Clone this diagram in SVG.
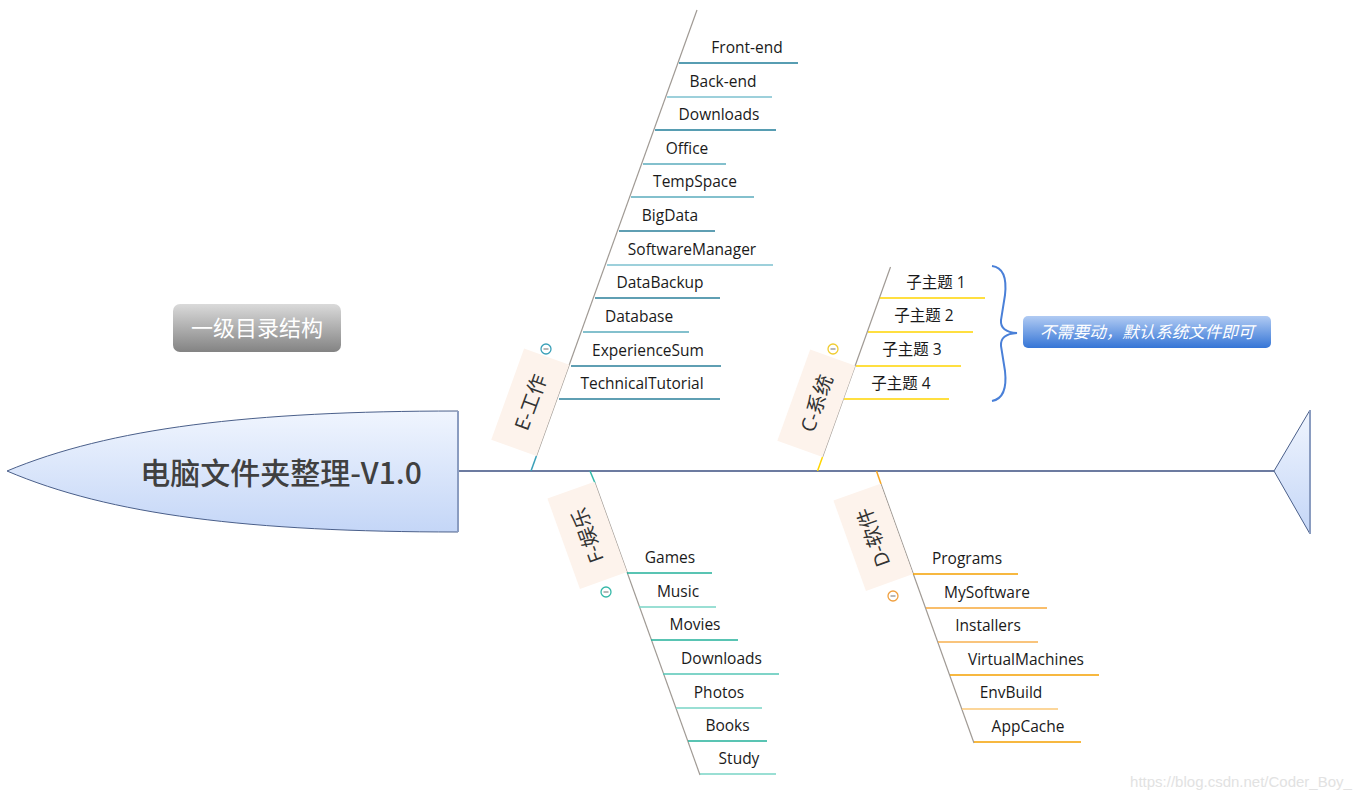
<svg xmlns="http://www.w3.org/2000/svg" width="1367" height="802" viewBox="0 0 1367 802">
<style>
.sub{font-family:"Open Sans","Noto Sans CJK SC",sans-serif;font-size:15.5px;fill:#1a1a1a;text-anchor:middle}
.lbl{font-family:"Open Sans","Noto Sans CJK SC",sans-serif;font-size:20px;fill:#333;text-anchor:middle;dominant-baseline:central}
.box{fill:#fdf3ec}
.diag{stroke:#a09a94;stroke-width:1.2;fill:none}
.ln{stroke-width:1.5;fill:none}
.cc{fill:#fff;stroke-width:1.3}
</style>
<defs>
<linearGradient id="gHead" x1="0" y1="0" x2="0" y2="1"><stop offset="0" stop-color="#f0f5fe"/><stop offset="1" stop-color="#c4d6f7"/></linearGradient>
<linearGradient id="gBadge" x1="0" y1="0" x2="0" y2="1"><stop offset="0" stop-color="#dadada"/><stop offset="1" stop-color="#838383"/></linearGradient>
<linearGradient id="gNote" x1="0" y1="0" x2="0" y2="1"><stop offset="0" stop-color="#b1cbf3"/><stop offset="1" stop-color="#3575d6"/></linearGradient>
</defs>
<rect width="1367" height="802" fill="#fff"/>

<g id="connectors">
<line x1="458" y1="471" x2="1274" y2="471" stroke="#3b4f80" stroke-width="1.5"/>
<line class="diag" x1="536.4" y1="456" x2="697" y2="10"/>
<line class="ln" x1="531" y1="471" x2="536.4" y2="456" stroke="#3aa0b8"/>
<line class="diag" x1="822.5" y1="457" x2="890.5" y2="267"/>
<line class="ln" x1="817.5" y1="471" x2="822.5" y2="457" stroke="#ffd500"/>
<line class="diag" x1="595" y1="483" x2="700" y2="775"/>
<line class="ln" x1="590" y1="471" x2="595" y2="483" stroke="#30b8a8"/>
<line class="diag" x1="881" y1="484" x2="974" y2="743"/>
<line class="ln" x1="876.5" y1="471" x2="881" y2="484" stroke="#f5a623"/>
<line class="ln" x1="679" y1="63" x2="798" y2="63" stroke="#1f7c98"/>
<line class="ln" x1="667" y1="97" x2="772" y2="97" stroke="#7cc1cf"/>
<line class="ln" x1="655" y1="130" x2="776" y2="130" stroke="#1f7c98"/>
<line class="ln" x1="643" y1="164" x2="726" y2="164" stroke="#5aabbd"/>
<line class="ln" x1="631" y1="197" x2="754" y2="197" stroke="#5aabbd"/>
<line class="ln" x1="619" y1="231" x2="715" y2="231" stroke="#2a7f9a"/>
<line class="ln" x1="607" y1="265" x2="773" y2="265" stroke="#7cc1cf"/>
<line class="ln" x1="595" y1="298" x2="720" y2="298" stroke="#2a7f9a"/>
<line class="ln" x1="583" y1="332" x2="689" y2="332" stroke="#5aabbd"/>
<line class="ln" x1="571" y1="366" x2="721" y2="366" stroke="#2a7f9a"/>
<line class="ln" x1="559" y1="399" x2="720" y2="399" stroke="#2a7f9a"/>
<line class="ln" x1="880" y1="298" x2="985" y2="298" stroke="#ffd500"/>
<line class="ln" x1="868" y1="332" x2="973" y2="332" stroke="#ffd500"/>
<line class="ln" x1="856" y1="366" x2="961" y2="366" stroke="#ffd500"/>
<line class="ln" x1="844" y1="399" x2="949" y2="399" stroke="#ffd500"/>
<line class="ln" x1="627" y1="573" x2="712" y2="573" stroke="#22b09a"/>
<line class="ln" x1="639" y1="607" x2="716" y2="607" stroke="#78d4c6"/>
<line class="ln" x1="651" y1="640" x2="738" y2="640" stroke="#22b09a"/>
<line class="ln" x1="663" y1="674" x2="779" y2="674" stroke="#55c6b6"/>
<line class="ln" x1="676" y1="708" x2="762" y2="708" stroke="#78d4c6"/>
<line class="ln" x1="688" y1="741" x2="767" y2="741" stroke="#22b09a"/>
<line class="ln" x1="700" y1="774" x2="776" y2="774" stroke="#78d4c6"/>
<line class="ln" x1="913" y1="574" x2="1018" y2="574" stroke="#f5a000"/>
<line class="ln" x1="926" y1="608" x2="1047" y2="608" stroke="#f7a83a"/>
<line class="ln" x1="938" y1="642" x2="1038" y2="642" stroke="#f7b050"/>
<line class="ln" x1="950" y1="675" x2="1099" y2="675" stroke="#f5a000"/>
<line class="ln" x1="962" y1="709" x2="1058" y2="709" stroke="#fbc879"/>
<line class="ln" x1="974" y1="742" x2="1081" y2="742" stroke="#f5a000"/>
<path d="M992,266 Q1008,268 1005,295 L1001,320 Q1000,332 1017,333 Q1000,334 1001,346 L1005,371 Q1008,398 992,401" fill="none" stroke="#4a80d8" stroke-width="2"/>
</g>

<g id="head">
<path d="M7,471 C110,428 250,411 458,411 L458,532 C250,532 110,515 7,471 Z" fill="url(#gHead)" stroke="#4a5f8a" stroke-width="1"/>
<line x1="458" y1="411" x2="458" y2="532" stroke="#8a9cc0" stroke-width="2"/>
<text x="281" y="484" font-family="Noto Sans CJK SC,sans-serif" font-size="30" font-weight="500" fill="#404040" text-anchor="middle">电脑文件夹整理-V1.0</text>
</g>

<g id="tail">
<polygon points="1274,471 1310,410 1310,534" fill="url(#gHead)" stroke="#4a5f8a" stroke-width="1"/>
<line x1="1310" y1="410" x2="1310" y2="534" stroke="#8a9cc0" stroke-width="2"/>
</g>

<g id="badge">
<rect x="173" y="304" width="168" height="48" rx="7" fill="url(#gBadge)"/>
<text x="257" y="336" font-family="Noto Sans CJK SC,sans-serif" font-size="22" fill="#fff" text-anchor="middle">一级目录结构</text>
</g>

<g id="E-work">
<g transform="translate(536.4,456) rotate(-70.2)">
<rect class="box" x="0" y="-48" width="97" height="48"/>
<text class="lbl" x="48.5" y="-24">E-工作</text>
</g>
<circle class="cc" cx="546" cy="349" r="5" stroke="#3aa0b8"/>
<line x1="543.5" y1="349" x2="548.5" y2="349" stroke="#888" stroke-width="1.2"/>
<text class="sub" x="747" y="53">Front-end</text>
<text class="sub" x="723" y="87">Back-end</text>
<text class="sub" x="719" y="120">Downloads</text>
<text class="sub" x="687" y="154">Office</text>
<text class="sub" x="695" y="187">TempSpace</text>
<text class="sub" x="670" y="221">BigData</text>
<text class="sub" x="692" y="255">SoftwareManager</text>
<text class="sub" x="660" y="288">DataBackup</text>
<text class="sub" x="639" y="322">Database</text>
<text class="sub" x="648" y="356">ExperienceSum</text>
<text class="sub" x="642" y="389">TechnicalTutorial</text>
</g>

<g id="C-system">
<g transform="translate(822.5,457) rotate(-70.2)">
<rect class="box" x="0" y="-48" width="97" height="48"/>
<text class="lbl" x="48.5" y="-24">C-系统</text>
</g>
<circle class="cc" cx="833" cy="349" r="5" stroke="#f0cc30"/>
<line x1="830.5" y1="349" x2="835.5" y2="349" stroke="#888" stroke-width="1.2"/>
<text class="sub" x="936" y="288">子主题 1</text>
<text class="sub" x="924" y="321">子主题 2</text>
<text class="sub" x="912" y="355">子主题 3</text>
<text class="sub" x="901" y="389">子主题 4</text>
</g>

<g id="note">
<rect x="1023" y="316" width="248" height="32" rx="5" fill="url(#gNote)"/>
<text x="1147" y="338" font-family="Noto Sans CJK SC,sans-serif" font-size="16.5" font-style="italic" fill="#fff" text-anchor="middle">不需要动，默认系统文件即可</text>
</g>

<g id="F-entertainment">
<g transform="translate(627,572) rotate(-109.8)">
<rect class="box" x="0" y="-50" width="96" height="50"/>
<text class="lbl" x="48" y="-25">F-娱乐</text>
</g>
<circle class="cc" cx="606" cy="592" r="5" stroke="#35b8a8"/>
<line x1="603.5" y1="592" x2="608.5" y2="592" stroke="#888" stroke-width="1.2"/>
<text class="sub" x="670" y="563">Games</text>
<text class="sub" x="678" y="597">Music</text>
<text class="sub" x="695" y="630">Movies</text>
<text class="sub" x="721.5" y="664">Downloads</text>
<text class="sub" x="719" y="698">Photos</text>
<text class="sub" x="727.5" y="731">Books</text>
<text class="sub" x="739" y="764">Study</text>
</g>

<g id="D-software">
<g transform="translate(913,574) rotate(-109.8)">
<rect class="box" x="0" y="-50" width="96" height="50"/>
<text class="lbl" x="48" y="-25">D-软件</text>
</g>
<circle class="cc" cx="893" cy="596" r="5" stroke="#f0a040"/>
<line x1="890.5" y1="596" x2="895.5" y2="596" stroke="#888" stroke-width="1.2"/>
<text class="sub" x="967" y="564">Programs</text>
<text class="sub" x="987" y="598">MySoftware</text>
<text class="sub" x="988" y="631">Installers</text>
<text class="sub" x="1026" y="665">VirtualMachines</text>
<text class="sub" x="1011" y="698">EnvBuild</text>
<text class="sub" x="1028" y="732">AppCache</text>
</g>

<text x="1241" y="787" font-family="Liberation Sans,sans-serif" font-size="15" fill="#e2e2e2" text-anchor="middle">https://blog.csdn.net/Coder_Boy_</text>
</svg>
